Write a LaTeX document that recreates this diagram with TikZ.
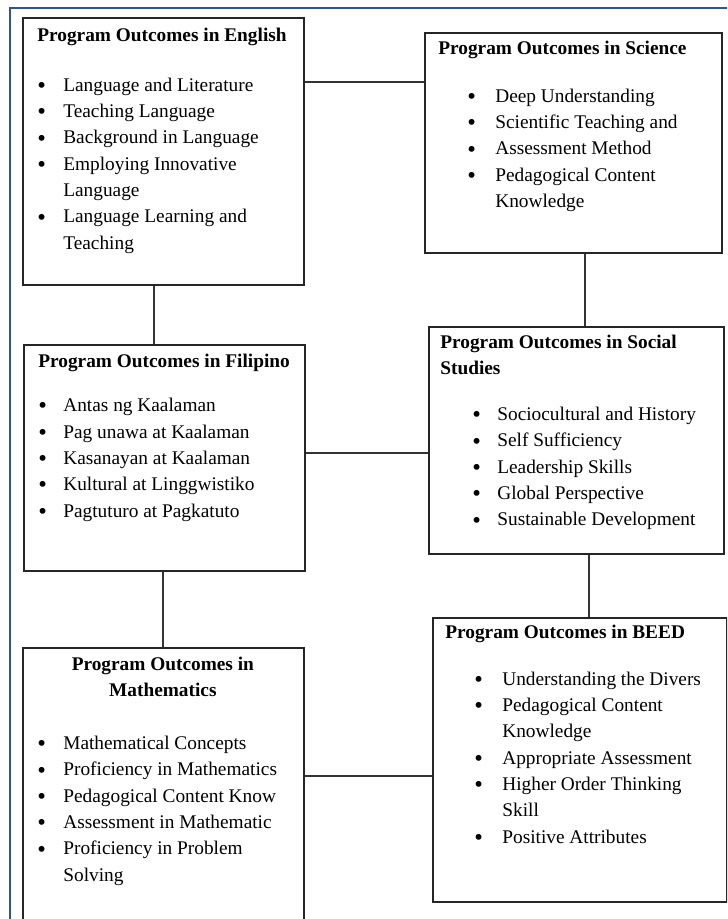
\documentclass[tikz,border=0pt]{standalone}
\usepackage{fontspec}
\setmainfont{Liberation Serif}
\usepackage{tikz}

\definecolor{frameblue}{RGB}{47,84,150}
\newcommand{\pobullet}{\raisebox{-0.25ex}{\fontsize{14}{15}\selectfont\textbullet}}

\begin{document}
\begin{tikzpicture}[
  pobox/.style={draw=black!85, line width=1.1pt, anchor=north west, inner sep=0pt},
  potext/.style={anchor=north west, inner sep=0pt, font=\fontsize{11}{15}\selectfont},
  link/.style={draw=black!80, line width=0.9pt}]

 \useasboundingbox (0,0) rectangle (14.54,-18.38);
 \clip (0,0) rectangle (14.54,-18.38);

 % Page frame
 \draw[frameblue, line width=1pt] (0.2,-0.16) rectangle (15,-19);

 % Boxes for the programs
 \node[pobox, minimum width=5.62cm, minimum height=5.34cm] (eng) at (0.44,-0.34) {};
 \node[pobox, minimum width=5.94cm, minimum height=4.40cm] (sci) at (8.48,-0.64) {};
 \node[pobox, minimum width=5.62cm, minimum height=4.52cm] (fil) at (0.46,-6.88) {};
 \node[pobox, minimum width=5.90cm, minimum height=4.54cm] (soc) at (8.56,-6.52) {};
 \node[pobox, minimum width=5.62cm, minimum height=6.30cm] (math) at (0.44,-12.94) {};
 \node[pobox, minimum width=5.88cm, minimum height=5.68cm] (beed) at (8.64,-12.34) {};

 % Outcomes in English
 \node[potext] (engtxt) at ([xshift=0.3cm, yshift=-0.11cm]eng.north west) {%
  \begin{tabular}{@{}p{0.52cm}@{}l@{}}
   \multicolumn{2}{@{}l@{}}{\textbf{Program Outcomes in English}}\\[0.47cm]
   \pobullet & Language and Literature\\
   \pobullet & Teaching Language\\
   \pobullet & Background in Language\\
   \pobullet & Employing Innovative\\
             & Language\\
   \pobullet & Language Learning and\\
             & Teaching
  \end{tabular}};

 % Outcomes in Science
 \node[potext] (scitxt) at ([xshift=0.28cm, yshift=-0.07cm]sci.north west) {%
  \begin{tabular}{@{\hspace{0.58cm}}p{0.56cm}@{}l@{}}
   \multicolumn{2}{@{}l@{}}{\textbf{Program Outcomes in Science}}\\[0.43cm]
   \pobullet & Deep Understanding\\
   \pobullet & Scientific Teaching and\\
   \pobullet & Assessment Method\\
   \pobullet & Pedagogical Content\\
             & Knowledge
  \end{tabular}};

 % Outcomes in Filipino
 \node[potext] (filtxt) at ([xshift=0.3cm, yshift=-0.09cm]fil.north west) {%
  \begin{tabular}{@{}p{0.5cm}@{}l@{}}
   \multicolumn{2}{@{}l@{}}{\textbf{Program Outcomes in Filipino}}\\[0.36cm]
   \pobullet & Antas ng Kaalaman\\
   \pobullet & Pag unawa at Kaalaman\\
   \pobullet & Kasanayan at Kaalaman\\
   \pobullet & Kultural at Linggwistiko\\
   \pobullet & Pagtuturo at Pagkatuto
  \end{tabular}};

 % Outcomes in Social Studies
 \node[potext] (soctxt) at ([xshift=0.24cm, yshift=-0.07cm]soc.north west) {%
  \begin{tabular}{@{\hspace{0.64cm}}p{0.5cm}@{}l@{}}
   \multicolumn{2}{@{}l@{}}{\textbf{Program Outcomes in Social}}\\
   \multicolumn{2}{@{}l@{}}{\textbf{Studies}}\\[0.39cm]
   \pobullet & Sociocultural and History\\
   \pobullet & Self Sufficiency\\
   \pobullet & Leadership Skills\\
   \pobullet & Global Perspective\\
   \pobullet & Sustainable Development
  \end{tabular}};

 % Outcomes in Mathematics
 \node[potext] (mathtxt) at ([xshift=0.3cm, yshift=-0.09cm]math.north west) {%
  \begin{tabular}{@{}p{0.52cm}@{}p{4.5cm}@{}}
   \multicolumn{2}{@{}c@{}}{\textbf{Program Outcomes in}}\\
   \multicolumn{2}{@{}c@{}}{\textbf{Mathematics}}\\[0.53cm]
   \pobullet & Mathematical Concepts\\
   \pobullet & Proficiency in Mathematics\\
   \pobullet & Pedagogical Content Know\\
   \pobullet & Assessment in Mathematic\\
   \pobullet & Proficiency in Problem\\
             & Solving
  \end{tabular}};

 % Outcomes in BEED
 \node[potext] (beedtxt) at ([xshift=0.26cm, yshift=-0.05cm]beed.north west) {%
  \begin{tabular}{@{\hspace{0.58cm}}p{0.56cm}@{}l@{}}
   \multicolumn{2}{@{}l@{}}{\textbf{Program Outcomes in BEED}}\\[0.41cm]
   \pobullet & Understanding the Divers\\
   \pobullet & Pedagogical Content\\
             & Knowledge\\
   \pobullet & Appropriate Assessment\\
   \pobullet & Higher Order Thinking\\
             & Skill\\
   \pobullet & Positive Attributes
  \end{tabular}};

 % Lines between the boxes
 \draw[link] ([yshift=-1.3cm]eng.north east) -- ([yshift=-1.3cm]eng.north east -| sci.west);
 \draw[link] ([xshift=2.64cm]eng.south west) -- ([xshift=2.64cm]eng.south west |- fil.north);
 \draw[link] ([xshift=3.22cm]sci.south west) -- ([xshift=3.22cm]sci.south west |- soc.north);
 \draw[link] ([yshift=-2.18cm]fil.north east) -- ([yshift=-2.18cm]fil.north east -| soc.west);
 \draw[link] ([xshift=2.8cm]fil.south west) -- ([xshift=2.8cm]fil.south west |- math.north);
 \draw[link] ([xshift=3.22cm]soc.south west) -- ([xshift=3.22cm]soc.south west |- beed.north);
 \draw[link] ([yshift=-2.58cm]math.north east) -- ([yshift=-2.58cm]math.north east -| beed.west);
\end{tikzpicture}
\end{document}
